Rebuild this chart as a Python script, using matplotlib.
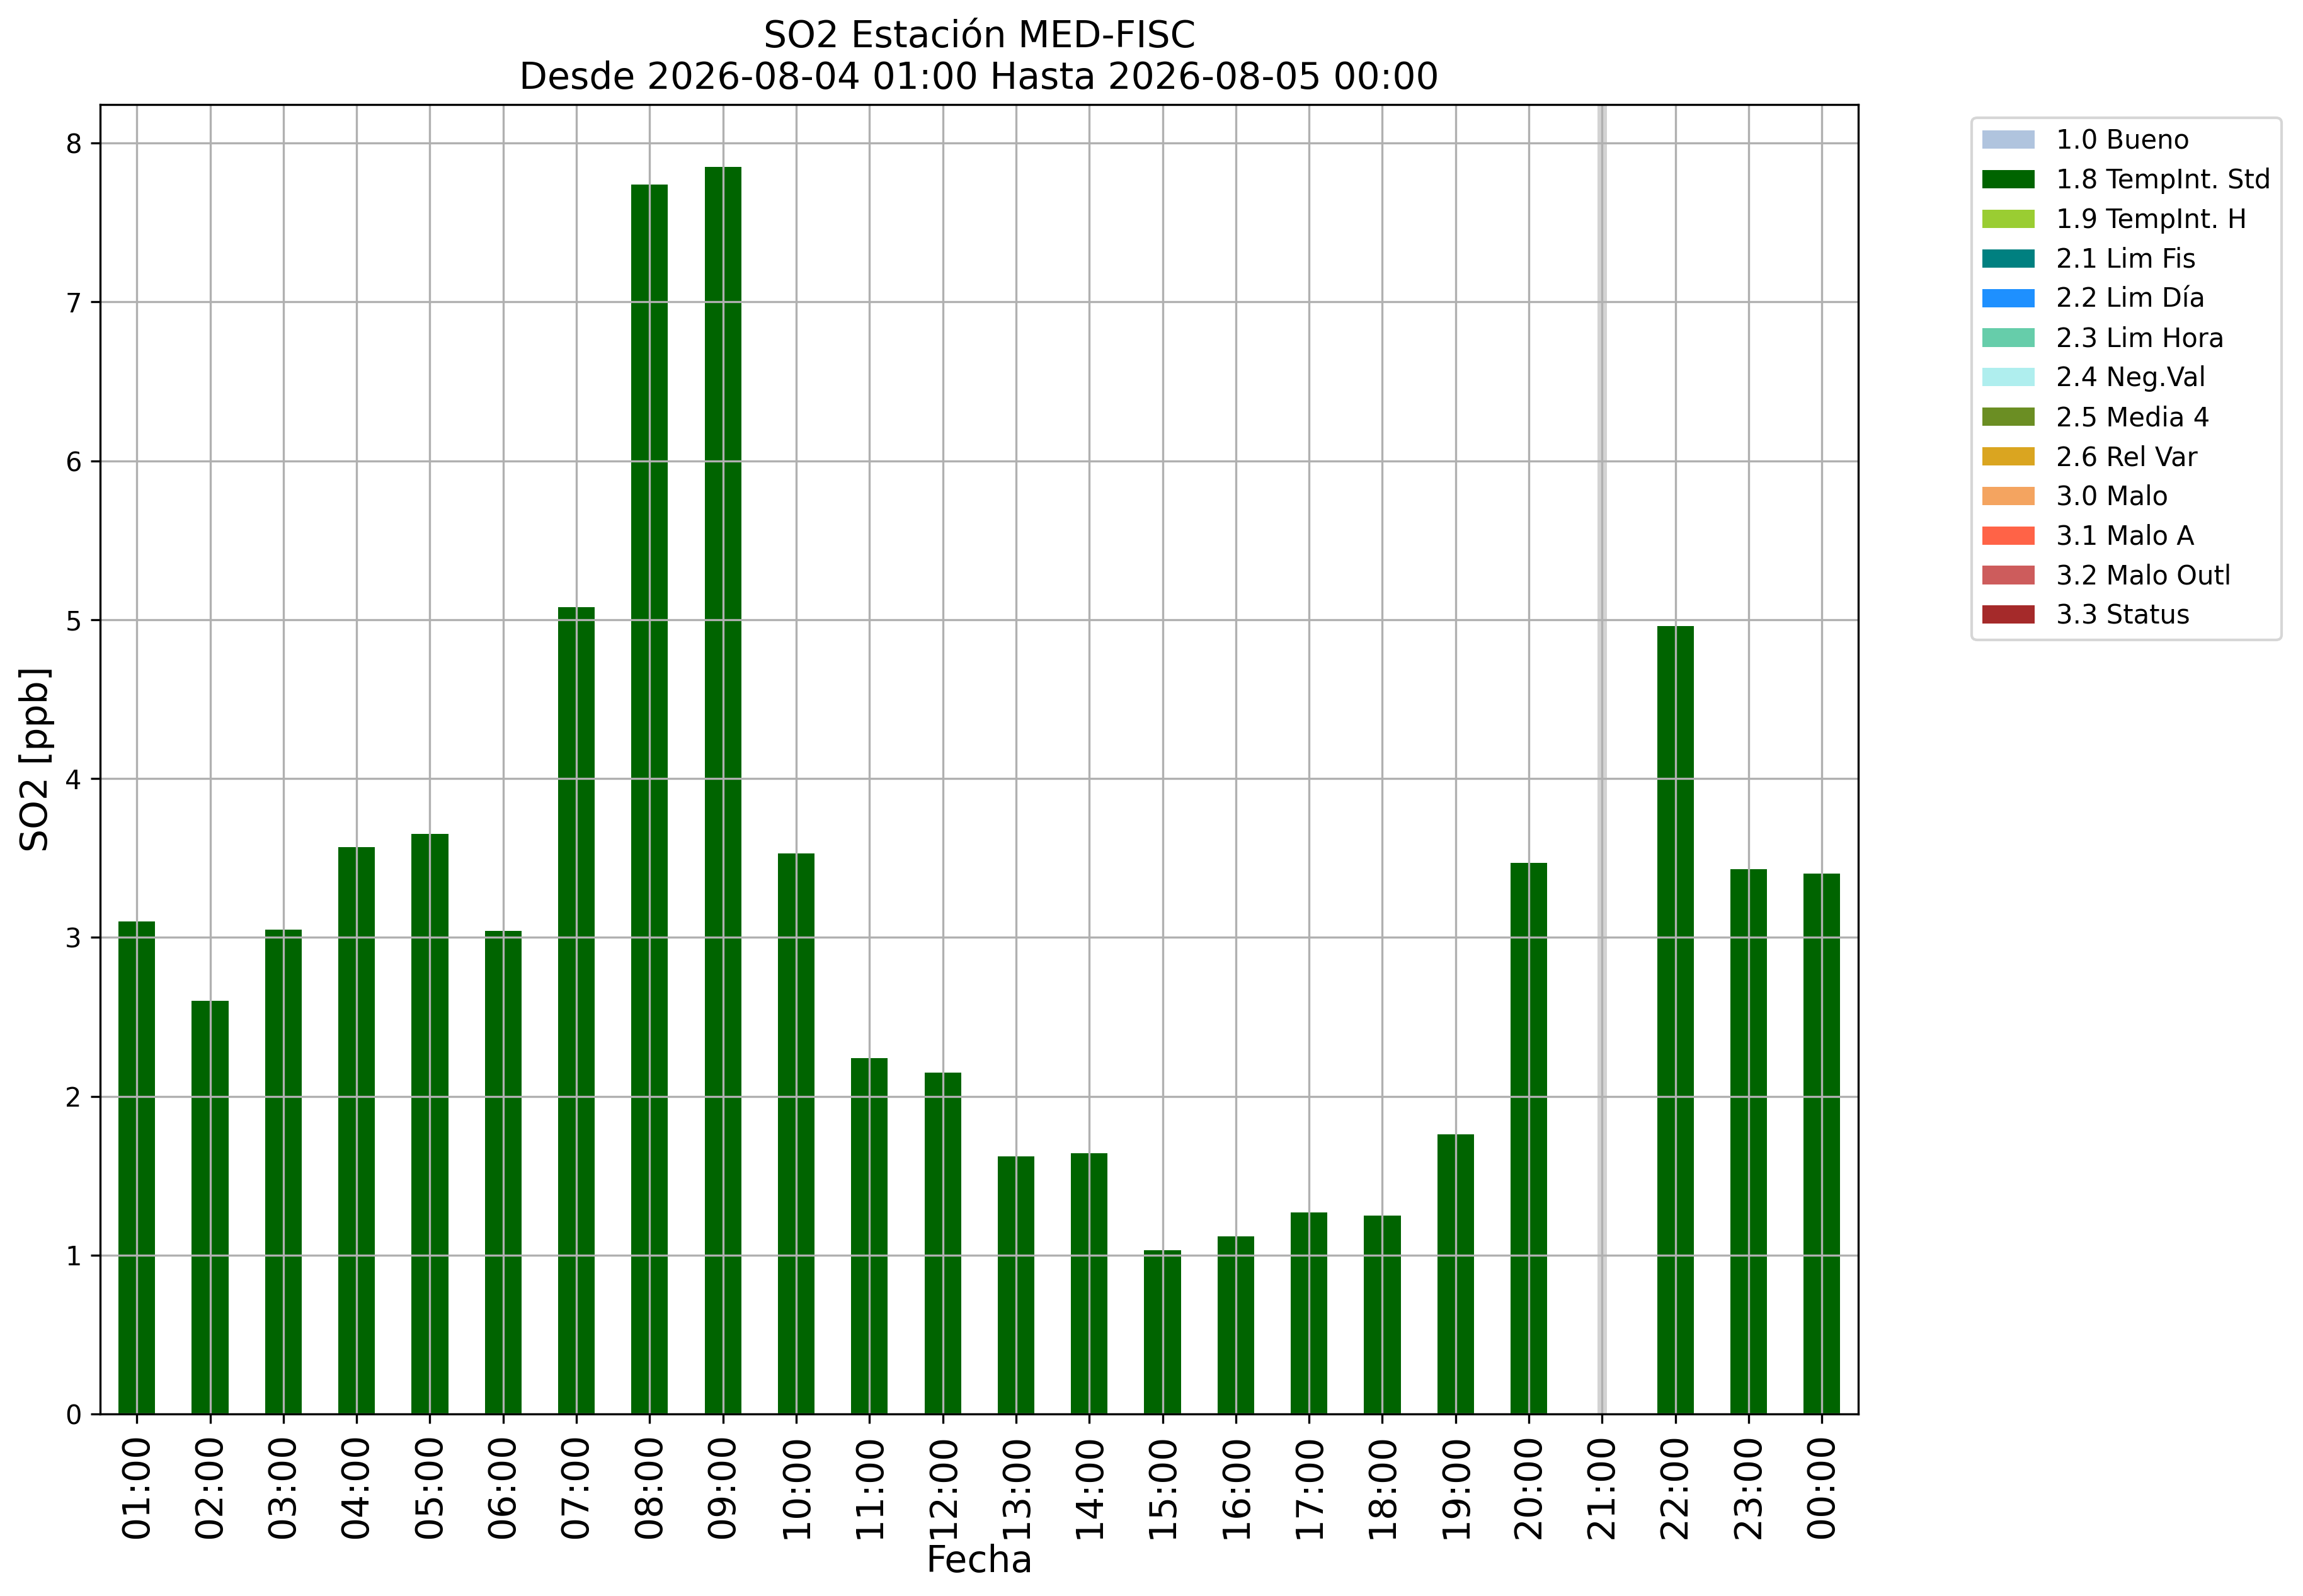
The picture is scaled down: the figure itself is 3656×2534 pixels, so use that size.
import numpy as np
import pandas as pd
import matplotlib
matplotlib.use('Agg')
import matplotlib.pyplot as plt
from matplotlib.patches import Patch

# Hourly SO2 values (ppb), 21:00 missing
horas = ['01:00', '02:00', '03:00', '04:00', '05:00', '06:00', '07:00', '08:00',
         '09:00', '10:00', '11:00', '12:00', '13:00', '14:00', '15:00', '16:00',
         '17:00', '18:00', '19:00', '20:00', '21:00', '22:00', '23:00', '00:00']
so2 = [3.10, 2.60, 3.05, 3.57, 3.65, 3.04, 5.08, 7.74,
       7.85, 3.53, 2.24, 2.15, 1.62, 1.64, 1.03, 1.12,
       1.27, 1.25, 1.76, 3.47, np.nan, 4.96, 3.43, 3.40]
faltantes = ['21:00']

# Quality flags for the legend
etiquetas = ['1.0 Bueno', '1.8 TempInt. Std', '1.9 TempInt. H', '2.1 Lim Fis',
             '2.2 Lim Día', '2.3 Lim Hora', '2.4 Neg.Val', '2.5 Media 4',
             '2.6 Rel Var', '3.0 Malo', '3.1 Malo A', '3.2 Malo Outl', '3.3 Status']
colores = ['lightsteelblue', 'darkgreen', 'yellowgreen', 'teal',
           'dodgerblue', 'mediumaquamarine', 'paleturquoise', 'olivedrab',
           'goldenrod', 'sandybrown', 'tomato', 'indianred', 'brown']

df = pd.DataFrame({'SO2': so2}, index=horas)

fig, ax = plt.subplots(figsize=(12.187, 8.447), dpi=300)
fig.subplots_adjust(left=0.0435, right=0.807, bottom=0.114, top=0.9345)

df['SO2'].plot(kind='bar', ax=ax, color='darkgreen', width=0.5)

# mark missing hours
for h in faltantes:
    ax.axvline(horas.index(h), color='lightgrey', linewidth=3.6, zorder=0.5)

ax.grid(True)
ax.set_title('SO2 Estación MED-FISC\nDesde 2026-08-04 01:00 Hasta 2026-08-05 00:00', fontsize=14)
ax.set_xlabel('Fecha', fontsize=14, labelpad=2)
ax.set_ylabel('SO2 [ppb]', fontsize=14)
ax.tick_params(axis='x', labelsize=14, labelrotation=90)

handles = [Patch(facecolor=c, label=l) for c, l in zip(colores, etiquetas)]
ax.legend(handles=handles, loc='upper left', bbox_to_anchor=(1.057, 1))

plt.savefig('out.png', dpi=300)
